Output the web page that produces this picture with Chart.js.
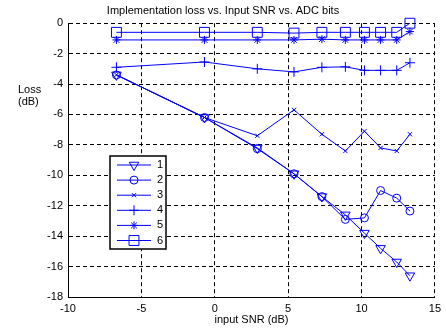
<!DOCTYPE html>
<html>
<head>
<meta charset="utf-8">
<script src="https://cdn.jsdelivr.net/npm/chart.js@4"></script>
<style>
  html, body { margin: 0; padding: 0; background: #fff; }
  #wrap { width: 446px; height: 329px; }
</style>
</head>
<body>
<div id="wrap"><canvas id="c" width="446" height="329"></canvas></div>
<script>
// input SNR (dB) where each bit-width was measured
const snr = [-6.7, -0.7, 2.9, 5.4, 7.3, 8.9, 10.2, 11.3, 12.4, 13.3];

// loss (dB) per ADC bit-width
const bits1 = [-3.4, -6.2, -8.2, -9.9, -11.4, -12.6, -13.8, -14.8, -15.7, -16.6];
const bits2 = [-3.4, -6.2, -8.25, -9.9, -11.4, -12.9, -12.8, -11.0, -11.5, -12.35];
const bits3 = [-3.4, -6.2, -7.4, -5.7, -7.3, -8.4, -7.1, -8.2, -8.4, -7.3];
const bits4 = [-2.9, -2.55, -3.0, -3.2, -2.9, -2.87, -3.1, -3.1, -3.1, -2.6];
const bits5 = [-1.1, -1.1, -1.1, -1.1, -1.05, -1.1, -1.1, -1.1, -1.1, -0.55];
const bits6 = [-0.6, -0.6, -0.6, -0.65, -0.6, -0.6, -0.6, -0.6, -0.6, 0.0];

const seriesNames = ['1', '2', '3', '4', '5', '6'];
const xTicks = [-10, -5, 0, 5, 10, 15];
const yTicks = [-18, -16, -14, -12, -10, -8, -6, -4, -2, 0];

const BLUE = '#0000ff';
const FONT = 'Liberation Sans, Arial, sans-serif';

// marker look for each series (matlab: v o x + * s)
const markers = [
  { pointStyle: 'triangle', radius: 5.5, rotation: 180 },
  { pointStyle: 'circle', radius: 4, rotation: 0 },
  { pointStyle: 'crossRot', radius: 3, rotation: 0 },
  { pointStyle: 'cross', radius: 5, rotation: 0 },
  { pointStyle: 'star', radius: 4, rotation: 0 },
  { pointStyle: 'rect', radius: 7, rotation: 0 }
];

function pts(ys) {
  return snr.map((x, i) => ({ x: x, y: ys[i] }));
}

const allSeries = [bits1, bits2, bits3, bits4, bits5, bits6];

const datasets = allSeries.map((ys, i) => ({
  label: seriesNames[i],
  data: pts(ys),
  borderColor: BLUE,
  borderWidth: 1,
  backgroundColor: 'rgba(0,0,0,0)',
  pointBorderColor: BLUE,
  pointBackgroundColor: 'rgba(0,0,0,0)',
  pointBorderWidth: 1,
  pointStyle: markers[i].pointStyle,
  pointRadius: markers[i].radius,
  pointRotation: markers[i].rotation,
  tension: 0,
  clip: false
}));

// matlab style legend box + horizontal y label
const extras = {
  id: 'extras',
  afterDatasetsDraw(chart) {
    const ctx = chart.ctx;
    ctx.save();
    // y label
    ctx.fillStyle = '#000';
    ctx.font = '11px ' + FONT;
    ctx.textAlign = 'left';
    ctx.textBaseline = 'middle';
    ctx.fillText('Loss', 18, 90);
    ctx.fillText('(dB)', 18, 102);

    // legend
    const bx = 110, by = 156, bw = 56, bh = 93;
    ctx.fillStyle = '#fff';
    ctx.fillRect(bx, by, bw, bh);
    ctx.strokeStyle = '#000';
    ctx.lineWidth = 1.5;
    ctx.strokeRect(bx, by, bw, bh);
    for (let i = 0; i < seriesNames.length; i++) {
      const yy = by + 9 + i * 15.1;
      ctx.strokeStyle = BLUE;
      ctx.lineWidth = 1;
      ctx.beginPath();
      ctx.moveTo(117, yy);
      ctx.lineTo(151, yy);
      ctx.stroke();
      ctx.save();
      ctx.strokeStyle = BLUE;
      ctx.fillStyle = 'rgba(0,0,0,0)';
      ctx.lineWidth = 1;
      Chart.helpers.drawPoint(ctx, {
        pointStyle: markers[i].pointStyle,
        radius: markers[i].radius,
        rotation: markers[i].rotation,
        borderWidth: 1
      }, 134, yy);
      ctx.restore();
      ctx.fillStyle = '#000';
      ctx.font = '11px ' + FONT;
      ctx.textAlign = 'left';
      ctx.textBaseline = 'middle';
      ctx.fillText(seriesNames[i], 157, yy);
    }
    ctx.restore();
  }
};

new Chart(document.getElementById('c'), {
  type: 'line',
  data: { datasets: datasets },
  options: {
    responsive: false,
    animation: false,
    layout: { padding: { left: 0, right: 0, top: 0, bottom: 0 } },
    plugins: {
      legend: { display: false },
      tooltip: { enabled: false },
      title: {
        display: true,
        text: 'Implementation loss vs. Input SNR vs. ADC bits',
        color: '#000',
        font: { family: FONT, size: 11, weight: 'normal' },
        padding: { top: 4, bottom: 6 }
      }
    },
    scales: {
      x: {
        type: 'linear',
        min: -10,
        max: 15,
        afterBuildTicks(scale) { scale.ticks = xTicks.map(v => ({ value: v })); },
        afterFit(scale) { scale.height = 32; },
        ticks: { color: '#000', font: { family: FONT, size: 11 }, padding: 5, maxRotation: 0 },
        grid: { color: '#000', lineWidth: 1, drawTicks: false },
        border: { display: true, color: '#000', width: 1, dash: [4, 3] },
        title: {
          display: true,
          text: 'input SNR (dB)',
          color: '#000',
          font: { family: FONT, size: 11 },
          padding: { top: 0, bottom: 2 }
        }
      },
      y: {
        type: 'linear',
        min: -18,
        max: 0,
        afterBuildTicks(scale) { scale.ticks = yTicks.map(v => ({ value: v })); },
        afterFit(scale) { scale.width = 68; },
        ticks: { color: '#000', font: { family: FONT, size: 11 }, padding: 5 },
        grid: { color: '#000', lineWidth: 1, drawTicks: false },
        border: { display: true, color: '#000', width: 1, dash: [4, 3] }
      }
    }
  },
  plugins: [extras]
});
</script>
</body>
</html>
